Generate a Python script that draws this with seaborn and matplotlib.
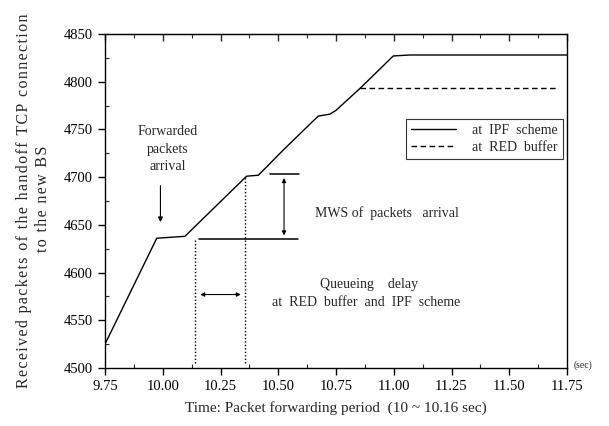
import matplotlib
matplotlib.use("Agg")
import matplotlib.pyplot as plt
import seaborn as sns
import pandas as pd
import numpy as np
from matplotlib.ticker import MultipleLocator

# ---- data ----
ipf_t = [9.75, 9.974, 10.096, 10.363, 10.414, 10.52, 10.673, 10.724, 10.75, 10.854, 10.998, 11.07, 11.75]
ipf_y = [4525, 4636, 4638, 4701, 4702, 4728, 4764, 4766, 4770, 4793, 4827, 4828, 4828]
red_t = [10.854, 11.71]
red_y = [4793, 4793]
series_names = ["at  IPF  scheme", "at  RED  buffer"]
xticks = [9.75, 10.00, 10.25, 10.50, 10.75, 11.00, 11.25, 11.50, 11.75]
yticks = [4500, 4550, 4600, 4650, 4700, 4750, 4800, 4850]
ylabel1 = "Received packets of the handoff TCP connection"
ylabel2 = "to the new BS"

df = pd.concat([
    pd.DataFrame({"t": ipf_t, "y": ipf_y, "s": series_names[0]}),
    pd.DataFrame({"t": red_t, "y": red_y, "s": series_names[1]}),
])

sns.set_style("white")
plt.rcParams["font.family"] = ["Liberation Serif", "DejaVu Serif"]

fig = plt.figure(figsize=(6.09, 4.26), dpi=100)
ax = fig.add_axes([105/609, 1-368/426, (567-105)/609, (368-34)/426])

sns.lineplot(data=df, x="t", y="y", hue="s", style="s",
             palette=["black", "black"], dashes=[(None, None), (4, 2.5)],
             linewidth=1.0, ax=ax, estimator=None, sort=False)

ax.set_xlim(9.75, 11.75)
ax.set_ylim(4500, 4850)
ax.set_xticks(xticks)
ax.set_xticklabels([f"{v:.2f}" for v in xticks])
ax.set_yticks(yticks)
ax.xaxis.set_minor_locator(MultipleLocator(0.125))
ax.yaxis.set_minor_locator(MultipleLocator(25))
ax.tick_params(axis="both", which="major", direction="out", length=5, width=1,
               labelsize=10.5, colors="black", bottom=True, left=True, top=False)
ax.tick_params(axis="both", which="minor", direction="in", length=3, width=0.8,
               bottom=True, left=True, top=False)
for sp in ax.spines.values():
    sp.set_color("black")
    sp.set_linewidth(1.0)

# top ticks inward
axt = ax.secondary_xaxis("top")
axt.set_xticks(xticks)
axt.set_xticklabels([])
axt.xaxis.set_minor_locator(MultipleLocator(0.125))
axt.tick_params(which="major", direction="in", length=5, width=1)
axt.tick_params(which="minor", direction="in", length=3, width=0.8)

ax.set_xlabel("Time: Packet forwarding period  (10 ~ 10.16 sec)", fontsize=11, labelpad=6)
ax.set_ylabel("")

hs = "\u200a"
fig.text(24/609, 1-201/426, hs.join(ylabel1), rotation=90, ha="center", va="center", fontsize=11.5)
fig.text(43/609, 1-199/426, hs.join(ylabel2), rotation=90, ha="center", va="center", fontsize=11.5)

# legend
leg = ax.legend(loc="upper right", bbox_to_anchor=(1.006, 0.765), fontsize=10,
                frameon=True, fancybox=False, edgecolor="black", handlelength=3.2,
                borderpad=0.35, labelspacing=0.25, handletextpad=1.2)
leg.get_frame().set_linewidth(0.8)

# annotations
ax.text(10.02, 4729, "Forwarded\npackets\narrival", ha="center", va="center", fontsize=10, linespacing=1.45)
ax.annotate("", xy=(9.99, 4650), xytext=(9.99, 4694),
            arrowprops=dict(arrowstyle="-|>", color="black", lw=0.8, mutation_scale=7))
ax.plot([10.157, 10.585], [4635, 4635], color="black", lw=1.1)
ax.plot([10.464, 10.59], [4703, 4703], color="black", lw=1.1)
ax.annotate("", xy=(10.525, 4636), xytext=(10.525, 4702),
            arrowprops=dict(arrowstyle="<|-|>", color="black", lw=0.8, mutation_scale=6))
ax.plot([10.14, 10.14], [4505, 4634], color="black", lw=1, ls=(0, (1, 1.5)))
ax.plot([10.356, 10.356], [4505, 4700], color="black", lw=1, ls=(0, (1, 1.5)))
ax.annotate("", xy=(10.15, 4577), xytext=(10.35, 4577),
            arrowprops=dict(arrowstyle="<|-|>", color="black", lw=0.8, mutation_scale=6))
ax.text(10.97, 4662, "MWS of  packets   arrival", ha="center", va="center", fontsize=10)
ax.text(10.895, 4587, "Queueing    delay", ha="center", va="center", fontsize=10)
ax.text(10.88, 4569, "at  RED  buffer  and  IPF  scheme", ha="center", va="center", fontsize=10)
fig.text(583/609, 1-365/426, "(sec)", ha="center", va="center", fontsize=7)

fig.savefig("out.png", dpi=100)
